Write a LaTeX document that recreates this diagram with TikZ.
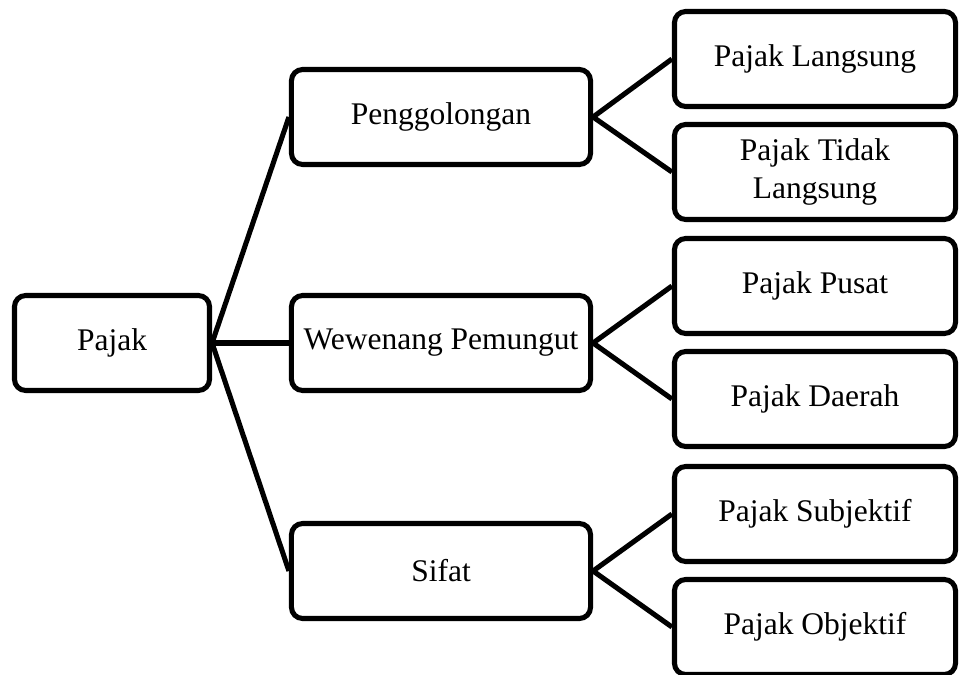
\documentclass[tikz,border=0pt]{standalone}
\usepackage{fontspec}
\setmainfont{Liberation Serif}
\usetikzlibrary{positioning}
\tikzset{
  rootbox/.style={
    draw=black, line width=3.6pt,
    rounded corners=8pt,
    fill=white,
    align=center,
    minimum width=4.875cm,
    minimum height=2.375cm,
    font=\fontsize{22.4}{27}\selectfont
  },
  groupbox/.style={
    rootbox,
    minimum width=7.475cm
  },
  leafbox/.style={
    rootbox,
    minimum width=7.025cm
  },
  branch/.style={
    line width=3.6pt,
    draw=black
  }
}

\begin{document}
\begin{tikzpicture}[x=0.025cm, y=-0.025cm]
  \useasboundingbox (0,0) rectangle (961,675);

  % root
  \node[rootbox] (pajak) at (112,343) {Pajak};

  % second level
  \node[groupbox] (golong) at (441,117) {Penggolongan};
  \node[groupbox] (wewenang) at (441,343) {Wewenang Pemungut};
  \node[groupbox] (sifat) at (441,571) {Sifat};

  % leaves
  \node[leafbox] (langsung) at (815,59) {Pajak Langsung};
  \node[leafbox] (tdklangsung) at (815,172) {Pajak Tidak\\Langsung};
  \node[leafbox] (pusat) at (815,286) {Pajak Pusat};
  \node[leafbox] (daerah) at (815,399) {Pajak Daerah};
  \node[leafbox] (subjektif) at (815,514) {Pajak Subjektif};
  \node[leafbox] (objektif) at (815,627) {Pajak Objektif};

  \foreach \g in {golong, wewenang, sifat}
    \draw[branch] (pajak.east) -- (\g.west);

  \draw[branch] (golong.east) -- (langsung.west);
  \draw[branch] (golong.east) -- (tdklangsung.west);
  \draw[branch] (wewenang.east) -- (pusat.west);
  \draw[branch] (wewenang.east) -- (daerah.west);
  \draw[branch] (sifat.east) -- (subjektif.west);
  \draw[branch] (sifat.east) -- (objektif.west);
\end{tikzpicture}
\end{document}
